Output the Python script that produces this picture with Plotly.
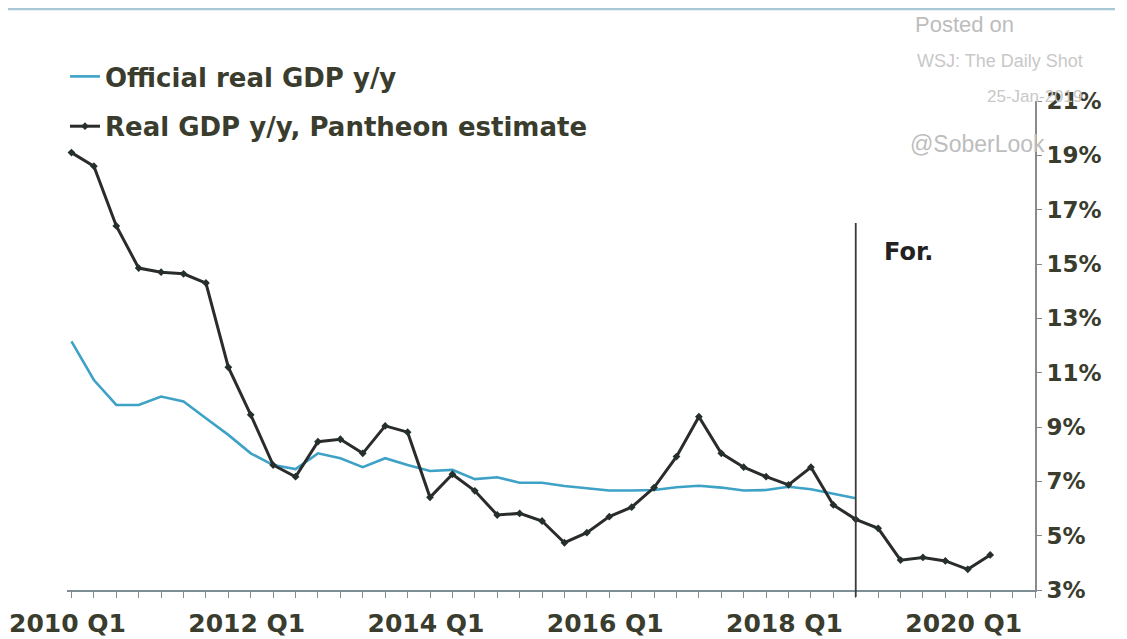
import plotly.graph_objects as go

# ---------------- data ----------------
years = list(range(2010, 2021))
quarters = [f"{y} Q{q}" for y in years for q in range(1, 5)]  # 2010 Q1 .. 2020 Q4

official_gdp = [12.15, 10.73, 9.81, 9.81, 10.12, 9.94, 9.32, 8.71, 8.03, 7.6,
                7.45, 8.03, 7.85, 7.52, 7.85, 7.6, 7.38, 7.42, 7.08, 7.15,
                6.95, 6.95, 6.83, 6.75, 6.66, 6.66, 6.68, 6.78, 6.84, 6.77,
                6.66, 6.68, 6.8, 6.71, 6.55, 6.38]

pantheon_gdp = [19.1, 18.6, 16.4, 14.85, 14.7, 14.64, 14.3, 11.2, 9.45, 7.6,
                7.17, 8.46, 8.55, 8.03, 9.04, 8.81, 6.41, 7.26, 6.65, 5.76,
                5.82, 5.54, 4.74, 5.11, 5.7, 6.05, 6.77, 7.91, 9.38, 8.03,
                7.52, 7.17, 6.87, 7.52, 6.13, 5.6, 5.27, 4.1, 4.2, 4.07,
                3.76, 4.29]

tick_labels = ["2010 Q1", "2012 Q1", "2014 Q1", "2016 Q1", "2018 Q1", "2020 Q1"]
forecast_start = "2018 Q4"
y_ticks = [3, 5, 7, 9, 11, 13, 15, 17, 19, 21]

# ---------------- style ----------------
FONT = "DejaVu Sans"
TXT = "#3a3c2e"
BLUE = "#3ea2c7"
BLACK = "#2a2c2b"

OFF = 8  # page body margin that offsets the figure
W, H = 1127 - OFF, 639 - OFF
# plot area in page pixels: x 67..1035, y 101..590
ML, MR, MT, MB = 67 - OFF, 1127 - 1035, 101 - OFF, 639 - 590
PW, PH = W - ML - MR, H - MT - MB


def px(xp):  # page pixel -> paper x
    return (xp - OFF - ML) / PW


def py(yp):  # page pixel -> paper y
    return (H - MB - (yp - OFF)) / PH


fig = go.Figure()

fig.add_trace(go.Scatter(
    x=quarters[:len(official_gdp)], y=official_gdp, mode="lines",
    name="Official real GDP y/y", legendgroup="a",
    line=dict(color=BLUE, width=2.6),
))
fig.add_trace(go.Scatter(
    x=quarters[:len(pantheon_gdp)], y=pantheon_gdp, mode="lines+markers",
    name="Real GDP y/y, Pantheon estimate", legendgroup="b",
    line=dict(color=BLACK, width=3),
    marker=dict(symbol="diamond", size=6, color="#25302d"),
))

tickvals = quarters
ticktext = [q if q in tick_labels else "" for q in quarters]

fig.update_layout(
    width=W, height=H,
    margin=dict(l=ML, r=MR, t=MT, b=MB, autoexpand=False),
    paper_bgcolor="white", plot_bgcolor="white",
    font=dict(family=FONT, color=TXT, size=24),
    showlegend=True,
    legend=dict(
        x=px(65), xanchor="left", xref="paper",
        y=1 - (53 - OFF) / H, yanchor="top", yref="container",
        bgcolor="rgba(0,0,0,0)",
        font=dict(family=FONT, size=26, color=TXT, weight="bold"),
        tracegroupgap=13, traceorder="grouped",
    ),
    xaxis=dict(
        type="category", categoryorder="array", categoryarray=quarters,
        range=[-0.2, len(quarters) - 1],
        tickmode="array", tickvals=tickvals, ticktext=ticktext,
        ticks="outside", ticklen=6, tickcolor="#7d8e94", tickwidth=1.3,
        showline=True, linecolor="#7d8e94", linewidth=1.6,
        showgrid=False, zeroline=False,
        tickfont=dict(family=FONT, size=25, color=TXT, weight="bold"),
        tickangle=0, automargin=False,
        ticklabelshift=-4, ticklabelstandoff=4,
    ),
    yaxis=dict(
        side="right", range=[3, 21],
        tickmode="array", tickvals=y_ticks,
        ticktext=[f"{v}%" for v in y_ticks],
        ticks="outside", ticklen=5, tickcolor="#888888",
        showline=True, linecolor="#8a8a8a", linewidth=2,
        showgrid=False, zeroline=False,
        tickfont=dict(family=FONT, size=23, color=TXT, weight="bold"),
        automargin=False,
    ),
)

# forecast divider
fig.add_shape(type="line", xref="x", yref="paper",
              x0=forecast_start, x1=forecast_start,
              y0=py(597), y1=py(223),
              line=dict(color="#3a3a3a", width=1.8))
fig.add_annotation(text="For.", xref="x", yref="y", x="2019 Q1", y=15.45,
                   xanchor="left", yanchor="middle", xshift=4, showarrow=False,
                   font=dict(family=FONT, size=24, color="#222222", weight="bold"))

# frame decoration: thin light-blue rule along the top
fig.add_shape(type="line", xref="paper", yref="paper",
              x0=px(OFF), x1=px(1115), y0=py(OFF + 1), y1=py(OFF + 1),
              line=dict(color="#a9c8d6", width=2.5))

# watermark texts
wm = [
    ("Posted on", 913, 24, 22, "#bdbdbd"),
    ("WSJ: The Daily Shot", 915, 61, 18, "#c8c8c8"),
    ("25-Jan-2019", 985, 97, 17, "#c8c8c8"),
    ("@SoberLook", 908, 144, 23, "#bdbdbd"),
]
for t, xp, yp, sz, col in wm:
    fig.add_annotation(text=t, xref="paper", yref="paper", x=px(xp), y=py(yp),
                       xanchor="left", yanchor="middle", showarrow=False,
                       font=dict(family="Liberation Sans", size=sz, color=col))

fig.write_html("out.html")
